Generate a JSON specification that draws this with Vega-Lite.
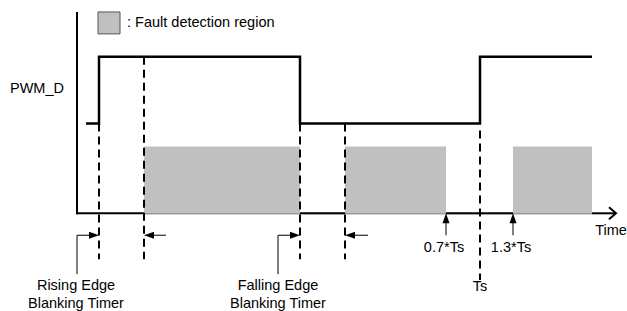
{
  "$schema": "https://vega.github.io/schema/vega-lite/v6.json",
  "width": 627,
  "height": 311,
  "autosize": {"type": "fit", "contains": "padding"},
  "padding": 0,
  "background": "white",
  "config": {"view": {"stroke": null}, "text": {"font": "Liberation Sans", "fontSize": 14.5, "color": "black"}},
  "datasets": {
    "regions": [{"x": 144, "x2": 300, "y": 147, "y2": 215}, {"x": 345, "x2": 446, "y": 147, "y2": 215}, {"x": 513, "x2": 592, "y": 147, "y2": 215}],
    "legendbox": [{"x": 98, "x2": 120, "y": 12, "y2": 34}],
    "pwm": [{"i": 0, "x": 86, "y": 124}, {"i": 1, "x": 99, "y": 124}, {"i": 2, "x": 99, "y": 57}, {"i": 3, "x": 300, "y": 57}, {"i": 4, "x": 300, "y": 124}, {"i": 5, "x": 480, "y": 124}, {"i": 6, "x": 480, "y": 57}, {"i": 7, "x": 592, "y": 57}],
    "axisv": [{"x": 77, "y": 12, "y2": 215}],
    "axish": [{"x": 76, "x2": 144, "y": 214}, {"x": 300, "x2": 345, "y": 214}, {"x": 446, "x2": 513, "y": 214}, {"x": 592, "x2": 615, "y": 214}],
    "baseline": [{"x": 144, "x2": 592, "y": 214.5}],
    "dashes": [{"x": 99, "y": 124, "y2": 260}, {"x": 144, "y": 57, "y2": 260}, {"x": 300, "y": 124, "y2": 260}, {"x": 345, "y": 124, "y2": 260}, {"x": 480, "y": 131, "y2": 281}],
    "hlines": [{"x": 77, "x2": 92, "y": 236}, {"x": 151, "x2": 166, "y": 236}, {"x": 278, "x2": 293, "y": 236}, {"x": 352, "x2": 368, "y": 236}],
    "vlines": [{"x": 77, "y": 236, "y2": 275}, {"x": 278, "y": 236, "y2": 275}, {"x": 446, "y": 222, "y2": 236}, {"x": 513, "y": 222, "y2": 236}],
    "headsR": [{"x": 99, "y": 236}, {"x": 300, "y": 236}],
    "headsL": [{"x": 144, "y": 236}, {"x": 345, "y": 236}],
    "headsU": [{"x": 446, "y": 214}, {"x": 513, "y": 214}],
    "chevron": [{"x": 616, "y": 214}],
    "labelsLeft": [{"text": ": Fault detection region", "x": 127, "y": 23}],
    "labels": [
      {"text": "PWM_D", "x": 37, "y": 89},
      {"text": "Time", "x": 611, "y": 232},
      {"text": "0.7*Ts", "x": 444, "y": 249},
      {"text": "1.3*Ts", "x": 511, "y": 249},
      {"text": "Ts", "x": 480, "y": 288},
      {"text": "Rising Edge", "x": 76, "y": 287},
      {"text": "Blanking Timer", "x": 76, "y": 305},
      {"text": "Falling Edge", "x": 278, "y": 287},
      {"text": "Blanking Timer", "x": 278, "y": 305}
    ]
  },
  "layer": [
    {
      "data": {"name": "regions"},
      "mark": {"type": "rect", "color": "#c0c0c0"},
      "encoding": {
        "x": {"field": "x", "type": "quantitative", "scale": {"domain": [0, 627], "nice": false, "zero": false}, "axis": null},
        "x2": {"field": "x2"},
        "y": {"field": "y", "type": "quantitative", "scale": {"domain": [0, 311], "nice": false, "zero": false, "reverse": true}, "axis": null},
        "y2": {"field": "y2"}
      }
    },
    {
      "data": {"name": "legendbox"},
      "mark": {"type": "rect", "fill": "#c0c0c0", "stroke": "#555555", "strokeWidth": 1},
      "encoding": {
        "x": {"field": "x", "type": "quantitative"},
        "x2": {"field": "x2"},
        "y": {"field": "y", "type": "quantitative"},
        "y2": {"field": "y2"}
      }
    },
    {
      "data": {"name": "baseline"},
      "mark": {"type": "rule", "color": "#888888", "strokeWidth": 1},
      "encoding": {
        "x": {"field": "x", "type": "quantitative"},
        "x2": {"field": "x2"},
        "y": {"field": "y", "type": "quantitative"}
      }
    },
    {
      "data": {"name": "dashes"},
      "mark": {"type": "rule", "color": "black", "strokeWidth": 2, "strokeDash": [8, 5]},
      "encoding": {
        "x": {"field": "x", "type": "quantitative"},
        "y": {"field": "y", "type": "quantitative"},
        "y2": {"field": "y2"}
      }
    },
    {
      "data": {"name": "axish"},
      "mark": {"type": "rule", "color": "black", "strokeWidth": 2},
      "encoding": {
        "x": {"field": "x", "type": "quantitative"},
        "x2": {"field": "x2"},
        "y": {"field": "y", "type": "quantitative"}
      }
    },
    {
      "data": {"name": "axisv"},
      "mark": {"type": "rule", "color": "black", "strokeWidth": 2},
      "encoding": {
        "x": {"field": "x", "type": "quantitative"},
        "y": {"field": "y", "type": "quantitative"},
        "y2": {"field": "y2"}
      }
    },
    {
      "data": {"name": "pwm"},
      "mark": {"type": "line", "color": "black", "strokeWidth": 2.5, "strokeJoin": "miter"},
      "encoding": {
        "x": {"field": "x", "type": "quantitative"},
        "y": {"field": "y", "type": "quantitative"},
        "order": {"field": "i", "type": "quantitative"}
      }
    },
    {
      "data": {"name": "hlines"},
      "mark": {"type": "rule", "color": "black", "strokeWidth": 1},
      "encoding": {
        "x": {"field": "x", "type": "quantitative"},
        "x2": {"field": "x2"},
        "y": {"field": "y", "type": "quantitative"}
      }
    },
    {
      "data": {"name": "vlines"},
      "mark": {"type": "rule", "color": "black", "strokeWidth": 1},
      "encoding": {
        "x": {"field": "x", "type": "quantitative"},
        "y": {"field": "y", "type": "quantitative"},
        "y2": {"field": "y2"}
      }
    },
    {
      "data": {"name": "headsR"},
      "mark": {"type": "point", "shape": "M0,0L-5,-1.75L-5,1.75Z", "size": 16, "filled": true, "color": "black", "opacity": 1, "strokeWidth": 0},
      "encoding": {
        "x": {"field": "x", "type": "quantitative"},
        "y": {"field": "y", "type": "quantitative"}
      }
    },
    {
      "data": {"name": "headsL"},
      "mark": {"type": "point", "shape": "M0,0L5,-1.75L5,1.75Z", "size": 16, "filled": true, "color": "black", "opacity": 1, "strokeWidth": 0},
      "encoding": {
        "x": {"field": "x", "type": "quantitative"},
        "y": {"field": "y", "type": "quantitative"}
      }
    },
    {
      "data": {"name": "headsU"},
      "mark": {"type": "point", "shape": "M0,0L-1.75,5L1.75,5Z", "size": 16, "filled": true, "color": "black", "opacity": 1, "strokeWidth": 0},
      "encoding": {
        "x": {"field": "x", "type": "quantitative"},
        "y": {"field": "y", "type": "quantitative"}
      }
    },
    {
      "data": {"name": "chevron"},
      "mark": {"type": "point", "shape": "M-3.5,-3L0,0L-3.5,3", "size": 16, "filled": false, "color": "black", "opacity": 1, "strokeWidth": 2},
      "encoding": {
        "x": {"field": "x", "type": "quantitative"},
        "y": {"field": "y", "type": "quantitative"}
      }
    },
    {
      "data": {"name": "labelsLeft"},
      "mark": {"type": "text", "align": "left", "baseline": "middle"},
      "encoding": {
        "x": {"field": "x", "type": "quantitative"},
        "y": {"field": "y", "type": "quantitative"},
        "text": {"field": "text"}
      }
    },
    {
      "data": {"name": "labels"},
      "mark": {"type": "text", "align": "center", "baseline": "middle"},
      "encoding": {
        "x": {"field": "x", "type": "quantitative"},
        "y": {"field": "y", "type": "quantitative"},
        "text": {"field": "text"}
      }
    }
  ]
}
